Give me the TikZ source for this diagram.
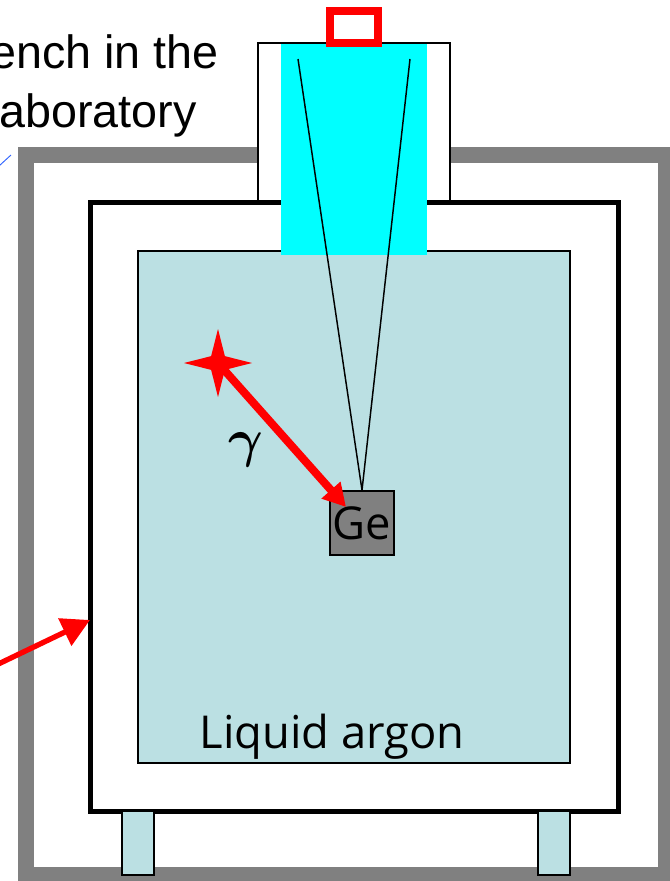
\documentclass[tikz,border=0pt]{standalone}
\usepackage{fontspec}
\setmainfont{Liberation Sans}
\newfontfamily\labelfont{Open Sans}
\usetikzlibrary{arrows.meta,shapes.geometric}
\definecolor{argon}{HTML}{BBE0E3}
\definecolor{wallgray}{HTML}{808080}
\definecolor{tickblue}{HTML}{3366FF}
\definecolor{window}{HTML}{00FFFF}
\definecolor{hotred}{HTML}{FF0000}

\begin{document}
\begin{tikzpicture}[x=0.75pt,y=-0.75pt,
	wall/.style={draw=wallgray,line width=12pt},
	vessel/.style={draw=black,line width=3.75pt,fill=white},
	thin box/.style={draw=black,line width=1.3pt},
	head text/.style={font=\fontsize{35}{38}\selectfont,inner sep=0pt,anchor=base east},
	big text/.style={font=\labelfont\fontsize{34}{36}\selectfont,inner sep=0pt},
	red arrow/.style={draw=hotred,line width=#1}]
	\useasboundingbox (0,0) rectangle (669,881);
	% cryostat
	\draw[wall] (26,155) rectangle (666,875);
	\draw[thin box,fill=white] (258,43) rectangle (450,202);
	\draw[vessel] (90,202.5) rectangle (618,811);
	\draw[thin box,fill=argon] (138,251) rectangle (570,763);
	\fill[window] (281,44) rectangle (427,255);
	% legs
	\draw[thin box,fill=argon] (122,811) rectangle (154,875);
	\draw[thin box,fill=argon] (538,811) rectangle (570,875);
	\draw[draw=hotred,line width=6pt] (330,11) rectangle (378,43);
	% labels
	\node[head text] (bench) at (219,69) {ench in the};
	\node[head text] (lab) at (197,127) {aboratory};
	\node[big text] (argon_label) at (332,737) {Liquid argon};
	\node[inner sep=0pt] (gamma) at (246,450) {\scalebox{4}{\boldmath$\gamma$}};
	% detector
	\node[draw=black,line width=1.3pt,fill=wallgray,minimum size=48pt,big text] (ge) at (362,523) {\raisebox{-2.25pt}{Ge}};
	\node[star,star points=4,star point ratio=3.5,fill=hotred,inner sep=0pt,minimum size=51pt] (source) at (218,363) {};
	\coordinate (cone_l) at (298,59);
	\coordinate (cone_r) at (410,59);
	\coordinate (ge_hit) at (346,507);
	\coordinate (wall_tip) at (90,620);
	\coordinate (wall_start) at (-10,668);
	\coordinate (tick_a) at (-1,166);
	\coordinate (tick_b) at (11,155);
	\draw[black,line width=1.1pt] (cone_l) -- (ge.north);
	\draw[black,line width=1.1pt] (cone_r) -- (ge.north);
	\draw[red arrow=6pt,-{Stealth[inset=0pt,length=17pt,width=18pt]}] (source.center) -- (ge_hit);
	\draw[red arrow=4pt,-{Stealth[inset=0pt,length=21pt,width=22pt]}] (wall_start) -- (wall_tip);
	\draw[tickblue,line width=0.7pt] (tick_a) -- (tick_b);
\end{tikzpicture}
\end{document}
